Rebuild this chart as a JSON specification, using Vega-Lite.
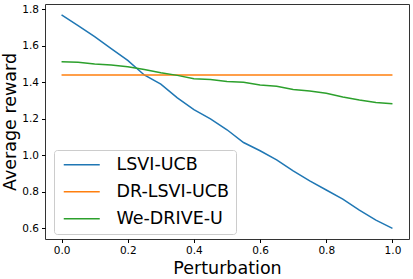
{
  "$schema": "https://vega.github.io/schema/vega-lite/v6.json",
  "autosize": {"type": "none"},
  "padding": {"left": 45, "top": 4, "right": 4, "bottom": 40},
  "width": 364,
  "height": 235,
  "config": {
    "font": "DejaVu Sans",
    "view": {"stroke": "#333", "strokeWidth": 1},
    "axis": {"grid": false, "domain": false, "tickColor": "#000", "tickSize": 3.5, "labelColor": "#000", "titleColor": "#000", "labelFontSize": 10.5, "titleFontSize": 17.5, "titleFontWeight": "normal", "labelFont": "DejaVu Sans", "titleFont": "DejaVu Sans"}
  },
  "data": {
    "values": [
      {"x": 0.0, "s": "LSVI-UCB", "v": 1.77},
      {"x": 0.05, "s": "LSVI-UCB", "v": 1.71},
      {"x": 0.1, "s": "LSVI-UCB", "v": 1.65},
      {"x": 0.15, "s": "LSVI-UCB", "v": 1.585},
      {"x": 0.2, "s": "LSVI-UCB", "v": 1.52},
      {"x": 0.25, "s": "LSVI-UCB", "v": 1.44},
      {"x": 0.3, "s": "LSVI-UCB", "v": 1.39},
      {"x": 0.35, "s": "LSVI-UCB", "v": 1.315},
      {"x": 0.4, "s": "LSVI-UCB", "v": 1.25},
      {"x": 0.45, "s": "LSVI-UCB", "v": 1.2},
      {"x": 0.5, "s": "LSVI-UCB", "v": 1.14},
      {"x": 0.55, "s": "LSVI-UCB", "v": 1.07},
      {"x": 0.6, "s": "LSVI-UCB", "v": 1.025},
      {"x": 0.65, "s": "LSVI-UCB", "v": 0.975},
      {"x": 0.7, "s": "LSVI-UCB", "v": 0.915},
      {"x": 0.75, "s": "LSVI-UCB", "v": 0.86},
      {"x": 0.8, "s": "LSVI-UCB", "v": 0.81},
      {"x": 0.85, "s": "LSVI-UCB", "v": 0.76},
      {"x": 0.9, "s": "LSVI-UCB", "v": 0.7},
      {"x": 0.95, "s": "LSVI-UCB", "v": 0.645},
      {"x": 1.0, "s": "LSVI-UCB", "v": 0.6},
      {"x": 0.0, "s": "DR-LSVI-UCB", "v": 1.44},
      {"x": 0.25, "s": "DR-LSVI-UCB", "v": 1.44},
      {"x": 0.5, "s": "DR-LSVI-UCB", "v": 1.44},
      {"x": 0.75, "s": "DR-LSVI-UCB", "v": 1.44},
      {"x": 1.0, "s": "DR-LSVI-UCB", "v": 1.44},
      {"x": 0.0, "s": "We-DRIVE-U", "v": 1.512},
      {"x": 0.05, "s": "We-DRIVE-U", "v": 1.51},
      {"x": 0.1, "s": "We-DRIVE-U", "v": 1.5},
      {"x": 0.15, "s": "We-DRIVE-U", "v": 1.495},
      {"x": 0.2, "s": "We-DRIVE-U", "v": 1.485},
      {"x": 0.25, "s": "We-DRIVE-U", "v": 1.47},
      {"x": 0.3, "s": "We-DRIVE-U", "v": 1.452},
      {"x": 0.35, "s": "We-DRIVE-U", "v": 1.438},
      {"x": 0.4, "s": "We-DRIVE-U", "v": 1.42},
      {"x": 0.45, "s": "We-DRIVE-U", "v": 1.415},
      {"x": 0.5, "s": "We-DRIVE-U", "v": 1.405},
      {"x": 0.55, "s": "We-DRIVE-U", "v": 1.4},
      {"x": 0.6, "s": "We-DRIVE-U", "v": 1.385},
      {"x": 0.65, "s": "We-DRIVE-U", "v": 1.378},
      {"x": 0.7, "s": "We-DRIVE-U", "v": 1.36},
      {"x": 0.75, "s": "We-DRIVE-U", "v": 1.352},
      {"x": 0.8, "s": "We-DRIVE-U", "v": 1.34},
      {"x": 0.85, "s": "We-DRIVE-U", "v": 1.32},
      {"x": 0.9, "s": "We-DRIVE-U", "v": 1.303},
      {"x": 0.95, "s": "We-DRIVE-U", "v": 1.29},
      {"x": 1.0, "s": "We-DRIVE-U", "v": 1.283}
    ]
  },
  "mark": {"type": "line", "strokeWidth": 1.5},
  "encoding": {
    "x": {"field": "x", "type": "quantitative", "title": "Perturbation",
      "scale": {"domain": [-0.05, 1.05], "nice": false, "zero": false},
      "axis": {"values": [0, 0.2, 0.4, 0.6, 0.8, 1.0], "format": ".1f", "labelPadding": 3, "titlePadding": 3}},
    "y": {"field": "v", "type": "quantitative", "title": "Average reward",
      "scale": {"domain": [0.5415, 1.829], "nice": false, "zero": false},
      "axis": {"values": [0.6, 0.8, 1.0, 1.2, 1.4, 1.6, 1.8], "format": ".1f", "labelPadding": 3, "titlePadding": 2.5}},
    "color": {"field": "s", "type": "nominal",
      "scale": {"domain": ["LSVI-UCB", "DR-LSVI-UCB", "We-DRIVE-U"], "range": ["#1f77b4", "#ff7f0e", "#2ca02c"]},
      "legend": {"title": null, "orient": "none", "legendX": 9, "legendY": 146,
        "symbolType": "M-1,0H5", "symbolSize": 144, "symbolStrokeWidth": 1.5, "symbolOffset": 1,
        "labelFontSize": 17.5, "labelFont": "DejaVu Sans", "labelColor": "#000", "labelOffset": 38,
        "rowPadding": 8, "padding": 6, "fillColor": "#fff", "strokeColor": "#ccc", "cornerRadius": 3}}
  }
}
